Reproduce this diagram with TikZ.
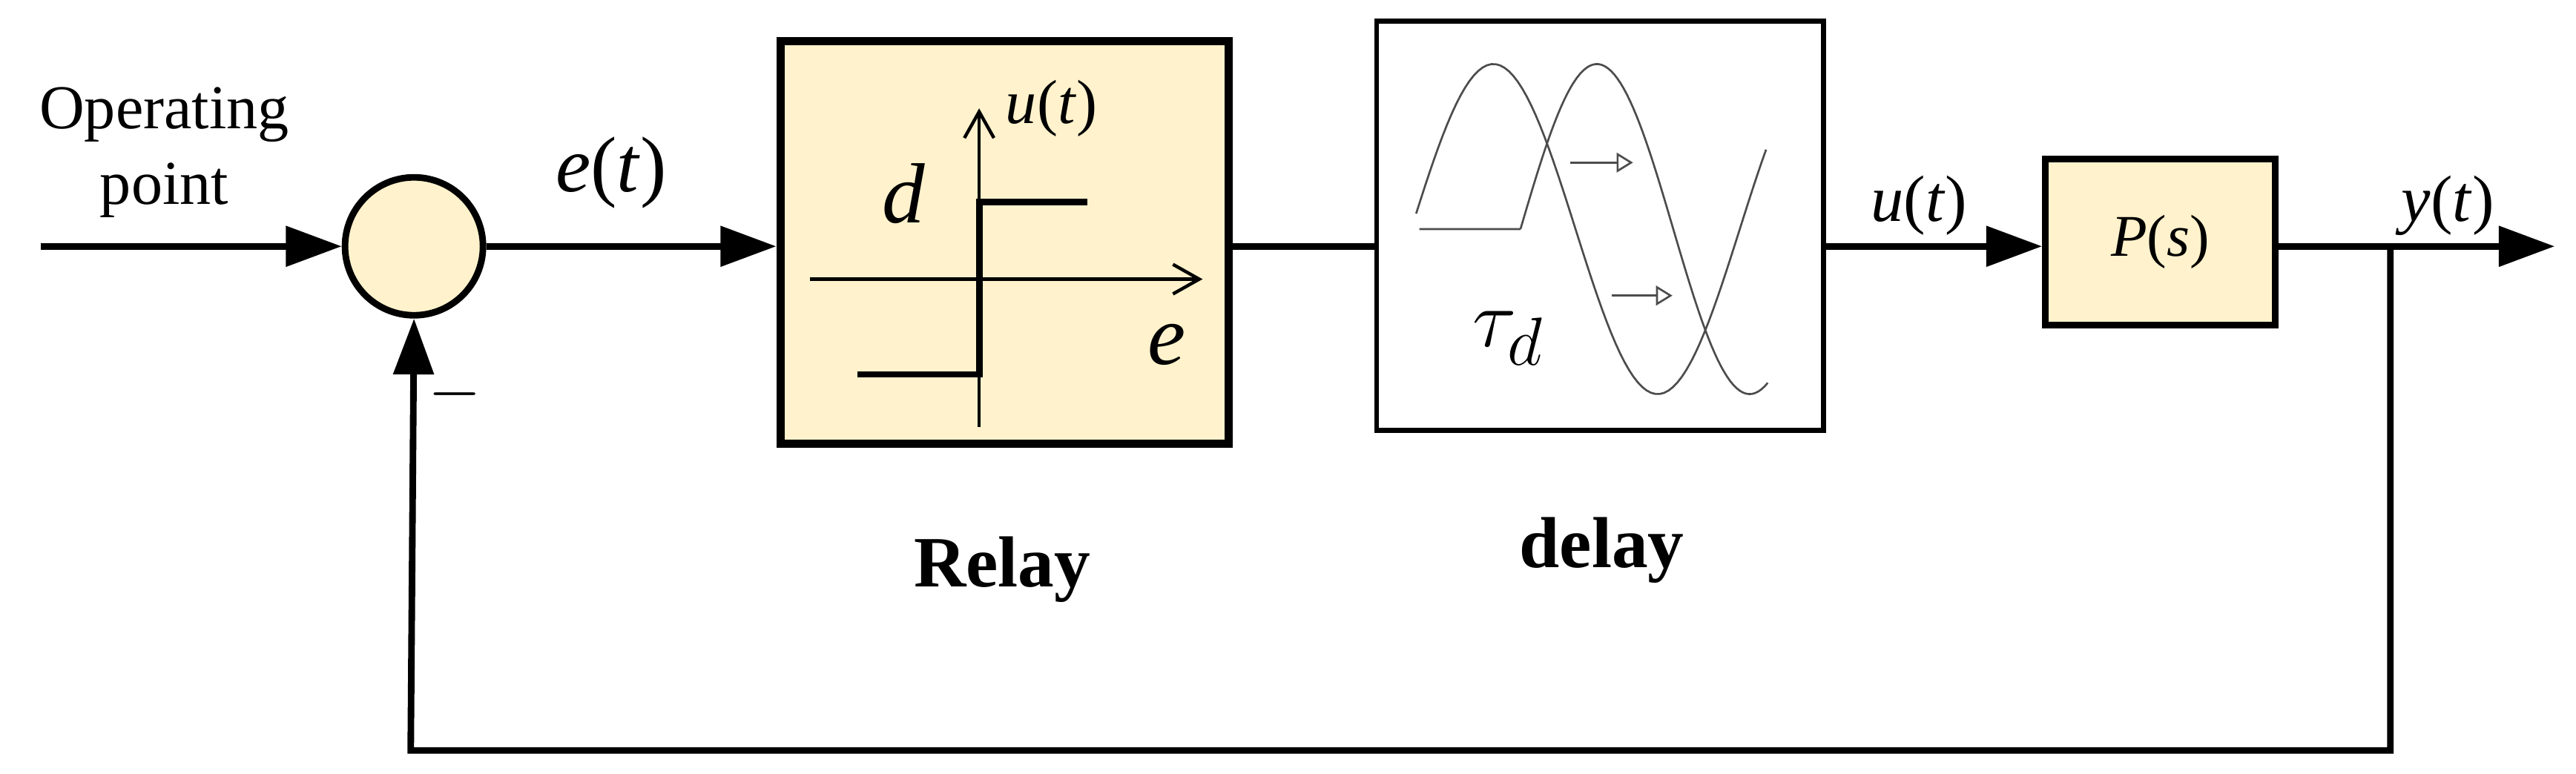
\documentclass[tikz,border=0pt]{standalone}
\usepackage{fontspec}
\setmainfont{Liberation Serif}
\usetikzlibrary{arrows.meta}
\newcommand{\iv}[1]{\textit{#1}}
\begin{document}
\begin{tikzpicture}[x=0.5pt,y=-0.5pt,
  sig/.style={line width=2pt},
  arr/.style={sig,-{Triangle[length=17pt,width=12pt]}},
  ax/.style={line width=1pt,-{Straight Barb[length=8pt,width=9pt]}},
  wave/.style={draw=black!70,line width=0.6pt}]
\useasboundingbox (0,0) rectangle (1568,471);
\definecolor{fillc}{HTML}{FFF2CC}
\node[draw,circle,line width=2pt,fill=fillc,minimum size=42pt,inner sep=0pt] (sum) at (252,150) {};
\node[draw,line width=2.5pt,fill=fillc,minimum width=136.5pt,minimum height=122.5pt,inner sep=0pt] (relay) at (611.5,147.5) {};
\node[draw,line width=1.5pt,fill=white,minimum width=136pt,minimum height=124.5pt,inner sep=0pt] (delay) at (974,137.5) {};
\node[draw,line width=2pt,fill=fillc,minimum width=70pt,minimum height=50.5pt,inner sep=0pt] (P) at (1315,147.5) {\fontsize{18}{20}\selectfont\iv{P}(\iv{s})};
\coordinate (in) at (25,150);
\coordinate (out) at (1555,150);
\coordinate (br) at (1455,150);
\coordinate (c1) at (1455,457);
\coordinate (c2) at (250,457);
\draw[arr] (in) -- (sum.west);
\draw[arr] (sum.east) -- (relay.west |- sum.east);
\draw[sig] (relay.east |- sum.east) -- (delay.west |- sum.east);
\draw[arr] (delay.east |- sum.east) -- (P.west |- sum.east);
\draw[arr] (P.east |- sum.east) -- (out);
\draw[arr] (br) -- (c1) -- (c2) -- (sum.south);
% texts
\node[align=center,font=\fontsize{19}{23}\selectfont] (op) at (100,93) {Operating\\point};
\node[font=\fontsize{24}{26}\selectfont] (et) at (372,105) {\iv{e}(\iv{t})};
\node[font=\fontsize{20}{22}\selectfont] (ut) at (1168,125) {\iv{u}(\iv{t})};
\node[font=\fontsize{20}{22}\selectfont] (yt) at (1490,125) {\iv{y}(\iv{t})};
\node[font=\fontsize{22}{24}\selectfont] (minus) at (277,240) {$-$};
\node[font=\bfseries\fontsize{22}{26}\selectfont] (rl) at (610,347) {Relay};
\node[font=\bfseries\fontsize{22}{26}\selectfont] (dl) at (975,335) {delay};
% relay characteristic
\coordinate (va) at (596,260); \coordinate (vb) at (596,66);
\coordinate (ha) at (493,170); \coordinate (hb) at (732,170);
\draw[ax] (va) -- (vb);
\draw[ax] (ha) -- (hb);
\draw[line width=2pt] (522,228) -- (596,228) -- (596,123) -- (662,123);
\node[font=\fontsize{19}{21}\selectfont] (ru) at (640,66) {\iv{u}(\iv{t})};
\node[font=\fontsize{26}{28}\selectfont] (rd) at (550,118) {\iv{d}};
\node[font=\fontsize{26}{28}\selectfont] (re) at (710,210) {\iv{e}};
% delay waves
\draw[wave] plot[domain=-47:166,samples=80] ({\x+909},{139.5-100.5*cos(1.8*\x)});
\draw[wave] (864,139.5) -- (925.5,139.5) plot[domain=-46.5:104,samples=80] ({\x+972},{139.5-100.5*cos(1.9355*\x)});
\draw[black!70,line width=0.6pt,-{Triangle[open,length=5pt,width=6pt]}] (956,99) -- (994,99);
\draw[black!70,line width=0.6pt,-{Triangle[open,length=5pt,width=6pt]}] (981,180) -- (1018,180);
\node[font=\fontsize{28}{30}\selectfont] (tau) at (918,206) {$\tau_d$};
\end{tikzpicture}
\end{document}
